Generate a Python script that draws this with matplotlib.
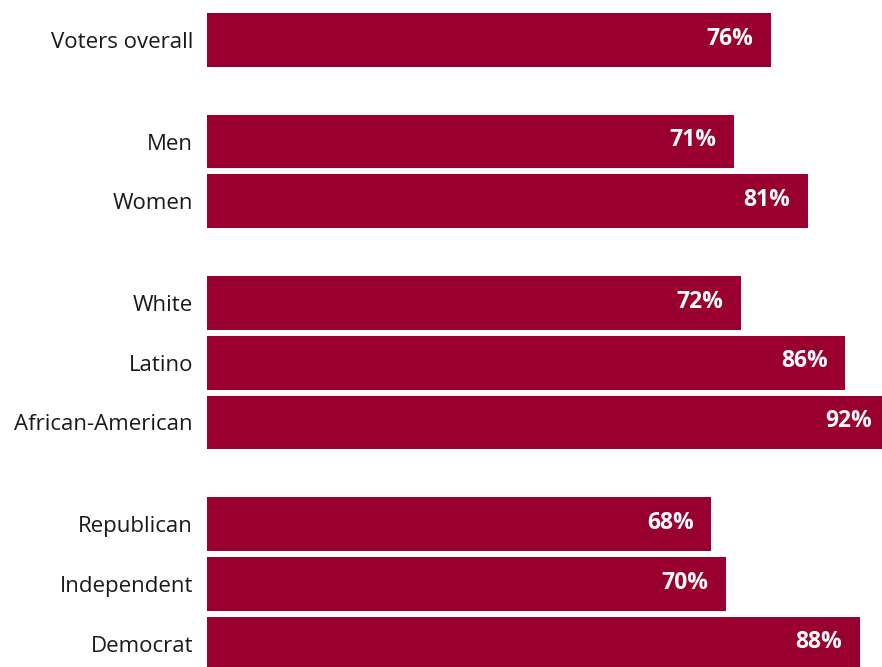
import matplotlib
matplotlib.use("Agg")
import matplotlib.pyplot as plt

plt.rcParams['font.family'] = ['Open Sans', 'DejaVu Sans']

categories = ["Voters overall", "Men", "Women", "White", "Latino",
              "African-American", "Republican", "Independent", "Democrat"]
values = [76, 71, 81, 72, 86, 92, 68, 70, 88]
# row positions, with extra gaps between groups
rows = [0, 1.7, 2.7, 4.4, 5.4, 6.4, 8.1, 9.1, 10.1]

bar_color = "#990030"

fig = plt.figure(figsize=(8.82, 6.67), dpi=100)
ax = fig.add_axes([207 / 882, 0, 1 - 207 / 882, 1 - 13 / 667])

ax.barh(rows, values, height=0.9, color=bar_color)

for y, v in zip(rows, values):
    ax.annotate(f"{v}%", xy=(v, y), xytext=(-12.5, 1), textcoords="offset points",
                ha="right", va="center", color="white", fontsize=16.5,
                fontweight="bold", annotation_clip=False)

# the chart is cropped on the right, so the longest bar runs off the edge
ax.set_xlim(0, 91)
ax.set_ylim(10.49, -0.45)
ax.set_yticks(rows)
ax.set_yticklabels(categories, fontsize=16, color="#1a1a1a")
ax.tick_params(axis="y", length=0, pad=10)
ax.set_xticks([])
for s in ax.spines.values():
    s.set_visible(False)

fig.savefig("out.png", dpi=100)
